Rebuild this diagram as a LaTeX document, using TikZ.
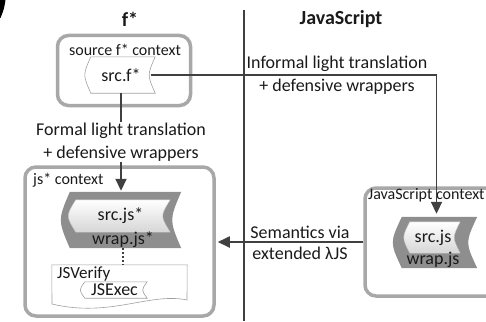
\documentclass[tikz,border=0pt]{standalone}
\usepackage{fontspec}
\setmainfont{Carlito}
\usetikzlibrary{arrows.meta,backgrounds,calc}

\definecolor{ctxgray}{HTML}{A8A8A8}
\definecolor{linegray}{HTML}{404040}
\definecolor{wrapgray}{HTML}{8E8E8E}
\definecolor{edgegray}{HTML}{A0A0A0}
\definecolor{innergray}{HTML}{D6D6D6}
\definecolor{textblack}{HTML}{1A1A1A}

% Tape outline around a node: left edge bulges out, right edge curves in.
% #1 node name, #2 bulge, #3 path style
\newcommand\tapeoutline[3]{%
  \path[#3] ([xshift=#2]#1.north west) -- (#1.north east)
    .. controls ([xshift={-2*#2}]#1.east) .. (#1.south east)
    -- ([xshift=#2]#1.south west)
    .. controls ([xshift={-#2}]#1.west) .. cycle;}

\begin{document}
\begin{tikzpicture}[x=1pt, y=-1pt,
  txt/.style={font=\fontsize{18}{23}\selectfont, inner sep=0pt, align=center, text=textblack},
  small/.style={font=\fontsize{16}{19}\selectfont, inner sep=0pt, text=textblack},
  title/.style={font=\fontsize{20}{24}\selectfont\bfseries, inner sep=0pt, text=textblack},
  ctx/.style={draw=ctxgray, line width=3.5pt, rounded corners=11pt, inner sep=0pt},
  area/.style={inner sep=0pt, font=\fontsize{18}{22}\selectfont, text=textblack},
  conn/.style={draw=linegray, line width=1.8pt},
  arr/.style={conn, -{Triangle[length=12pt,width=11pt]}},
  divider/.style={draw=linegray, line width=2.4pt},
  tapeline/.style={draw=edgegray, line width=0.6pt, fill=white},
  wrapfill/.style={fill=wrapgray},
  innerfill/.style={top color=white, bottom color=innergray, draw=edgegray!60, line width=0.4pt},
]
\useasboundingbox (0,0) rectangle (486,321);
\clip (0,0) rectangle (486,321);

% corner mark
\fill[black] (0,0) -- (5.5,0) .. controls (4,9) .. (0.5,18) -- (0,18) -- cycle;

% column titles and divider
\node[title] (ftitle) at (130,19) {f*};
\node[title] (jstitle) at (341,19) {JavaScript};
\coordinate (divtop) at (244,10);
\coordinate (divbot) at (244,321);
\draw[divider] (divtop) -- (divbot);

% source f* context
\node[ctx, minimum width=133pt, minimum height=70pt] (srcctx) at (124,70.5) {};
\node[small] (srcctxlbl) at (125,50) {source f* context};
\node[area, minimum width=68pt, minimum height=36pt] (srcf) at (121,75) {src.f*};

% js* context
\node[ctx, minimum width=189pt, minimum height=149pt] (jsctx) at (119.5,241.5) {};
\node[small, anchor=west] (jsctxlbl) at (33,180) {js* context};
\node[area, minimum width=117pt, minimum height=56pt] (wrapA) at (122.5,220) {};
\node[area, minimum width=99pt, minimum height=32pt] (srcjsA) at (120.5,216) {src.js*};
\node[area] (wrapAlbl) at (123,240) {wrap.js*};
\node[inner sep=0pt, minimum width=135pt, minimum height=40pt] (verify) at (119.5,285) {};
\node[small, font=\fontsize{17}{20}\selectfont, anchor=west] (verifylbl) at (57,274) {JSVerify};
\node[area, minimum width=65pt, minimum height=16pt] (jsexec) at (114.5,290) {JSExec};

% JavaScript context
\node[ctx, minimum width=135pt, minimum height=108pt] (jsRctx) at (432.5,242) {};
\node[small, anchor=west] (jsRlbl) at (368,195) {JavaScript context};
\node[area, minimum width=81pt, minimum height=51pt] (wrapB) at (436.5,242.5) {};
\node[area, minimum width=54pt, minimum height=31pt] (srcjsB) at (433,237.5) {src.js};
\node[area] (wrapBlbl) at (433,260) {wrap.js};

% shape bodies behind the texts
\begin{pgfonlayer}{background}
  \tapeoutline{srcf}{4}{tapeline}
  \tapeoutline{wrapA}{6}{wrapfill}
  \tapeoutline{srcjsA}{5}{innerfill}
  \path[tapeline] (verify.north west) -- (verify.north east) -- (187,300)
    .. controls (150,292) and (110,318) .. (52,304) -- cycle;
  \tapeoutline{jsexec}{3}{tapeline}
  \tapeoutline{wrapB}{6}{wrapfill}
  \tapeoutline{srcjsB}{4}{innerfill}
\end{pgfonlayer}

% translations
\draw[arr] ([xshift=-4pt]srcf.east) -| ([yshift=3pt]wrapB.north);
\node[txt] (informal) at (337,75) {Informal light translation\\+ defensive wrappers};

\draw[arr] (srcf.south) -- node[txt, fill=white, inner sep=1pt] (formal)
  {Formal light translation\\+ defensive wrappers} ([yshift=1pt]srcf.south |- wrapA.north);

\draw[arr, shorten >=2pt] (jsRctx.west) -- (jsctx.east |- jsRctx.west);
\node[txt, font=\fontsize{18}{21}\selectfont] (semantics) at (300,242.5) {Semantics via\\extended λJS};

\draw[linegray, line width=2pt, dash pattern=on 2pt off 2pt] (wrapA.south) -- (wrapA.south |- verify.north);
\end{tikzpicture}
\end{document}
